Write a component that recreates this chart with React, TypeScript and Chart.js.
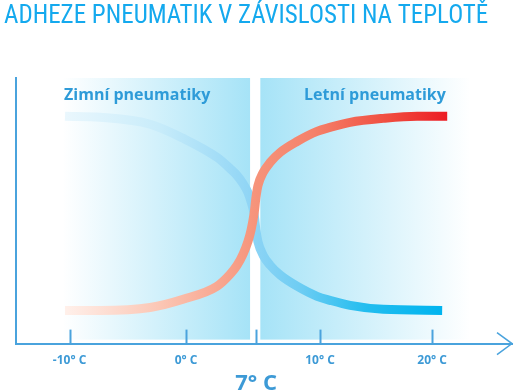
import React, { useEffect, useRef } from 'react';
import { Chart, registerables, LinearScale } from 'chart.js';

Chart.register(...registerables);

// ---------- data ----------
const TITLE = 'ADHEZE PNEUMATIK V ZÁVISLOSTI NA TEPLOTĚ';

const TICK_VALUES = [-10, 0, 7, 10, 20];
const TICK_LABELS = ['-10° C', '0° C', '7° C', '10° C', '20° C'];
const HIGHLIGHT_TICK = 7;

const WINTER_LABEL = 'Zimní pneumatiky';
const WINTER_TEMPS = [-10.39, -7.38, -3.09, -0.26, 3.1, 4.4, 5.1, 5.7, 6.2, 6.5, 6.8, 7.0, 7.09, 7.33, 7.66, 8.13, 8.92, 9.86, 10.89, 12.68, 15.63, 20.89];
const WINTER_GRIP = [85.6, 85.2, 82.6, 77.3, 70.1, 65.9, 63.3, 60.2, 56.8, 53.4, 48.9, 42.4, 38.3, 33.3, 29.5, 25.8, 21.6, 17.8, 16.3, 14.4, 12.9, 12.5];

const SUMMER_LABEL = 'Letní pneumatiky';
const SUMMER_TEMPS = [-10.39, -7.38, -3.09, -0.26, 3.1, 4.4, 5.1, 5.7, 6.2, 6.5, 6.8, 7.0, 7.09, 7.33, 7.66, 8.13, 8.92, 9.86, 10.89, 12.68, 15.63, 18.66, 21.34];
const SUMMER_GRIP = [12.5, 12.5, 13.6, 16.7, 21.6, 26.1, 29.5, 33.7, 38.6, 42.8, 48.9, 55.3, 59.5, 64.4, 68.2, 72.0, 76.1, 79.9, 81.4, 83.3, 84.8, 85.6, 85.6];

const ZONE_LABELS = [WINTER_LABEL, SUMMER_LABEL];
const ZONE_FROM = [-10.6, 7.2];
const ZONE_TO = [6.4, 23.4];
const ZONE_LABEL_AT = [-4.2, 14.9];
const ZONE_TOP = 100;
const ZONE_BOTTOM = 1.5;
const ZONE_LABEL_LEVEL = 93.5;

// ---------- styling / layout ----------
const AXIS_COLOR = '#4aa3dd';
const TEXT_BLUE = '#2e9bd8';
const PANEL_BLUE = '#a6e3f7';

// schematic (non-linear) temperature axis: value -> fraction of axis width
const AXIS_WARP: [number, number][] = [
  [-14.6, 0],
  [-10, 0.108],
  [0, 0.343],
  [7, 0.484],
  [10, 0.613],
  [20, 0.839],
  [27.1, 1],
];

function warp(v: number): number {
  const k = AXIS_WARP;
  let i = 0;
  while (i < k.length - 2 && v > k[i + 1][0]) i++;
  const [v0, d0] = k[i];
  const [v1, d1] = k[i + 1];
  return d0 + ((v - v0) * (d1 - d0)) / (v1 - v0);
}
function unwarp(d: number): number {
  const k = AXIS_WARP;
  let i = 0;
  while (i < k.length - 2 && d > k[i + 1][1]) i++;
  const [v0, d0] = k[i];
  const [v1, d1] = k[i + 1];
  return v0 + ((d - d0) * (v1 - v0)) / (d1 - d0);
}

class WarpScale extends LinearScale {
  static id = 'warp';
  static defaults = { ticks: { callback: (v: any) => String(v) } };
  getPixelForValue(value: any) {
    if (value === null || value === undefined || isNaN(value)) return NaN;
    return this.getPixelForDecimal(warp(value));
  }
  getValueForPixel(pixel: number) {
    return unwarp(this.getDecimalForPixel(pixel));
  }
}
Chart.register(WarpScale as any);

const WINTER_STOPS: [number, string][] = [
  [0, '#eaf7fd'],
  [0.25, '#c8ecfa'],
  [0.5, '#8dd4f5'],
  [0.62, '#6fcdf3'],
  [0.8, '#22bdef'],
  [1, '#00b4ef'],
];
const SUMMER_STOPS: [number, string][] = [
  [0, '#fff0ea'],
  [0.25, '#fbc6b4'],
  [0.5, '#f6937a'],
  [0.65, '#f5816a'],
  [0.85, '#f04c3f'],
  [1, '#ec1c24'],
];

function lineGradient(chart: any, temps: number[], stops: [number, string][]) {
  const area = chart.chartArea;
  const xs = chart.scales && chart.scales.x;
  if (!area || !xs) return stops[stops.length - 1][1];
  const x0 = xs.getPixelForValue(temps[0]);
  const x1 = xs.getPixelForValue(temps[temps.length - 1]);
  const g = chart.ctx.createLinearGradient(x0, 0, x1, 0);
  stops.forEach(([o, c]) => g.addColorStop(o, c));
  return g;
}

const decor = {
  id: 'decor',
  beforeDatasetsDraw(chart: any) {
    const { ctx, scales } = chart;
    const x = scales.x;
    const y = scales.y;
    ctx.save();
    ZONE_LABELS.forEach((label, i) => {
      const x0 = x.getPixelForValue(ZONE_FROM[i]);
      const x1 = x.getPixelForValue(ZONE_TO[i]);
      const y0 = y.getPixelForValue(ZONE_TOP);
      const y1 = y.getPixelForValue(ZONE_BOTTOM);
      const g = ctx.createLinearGradient(x0, 0, x1, 0);
      if (i === 0) {
        g.addColorStop(0, '#ffffff');
        g.addColorStop(1, PANEL_BLUE);
      } else {
        g.addColorStop(0, PANEL_BLUE);
        g.addColorStop(1, '#ffffff');
      }
      ctx.fillStyle = g;
      ctx.fillRect(x0, y0, x1 - x0, y1 - y0);
      ctx.fillStyle = TEXT_BLUE;
      ctx.font = 'bold 16px "Open Sans", sans-serif';
      ctx.textAlign = 'center';
      ctx.textBaseline = 'middle';
      ctx.fillText(label, x.getPixelForValue(ZONE_LABEL_AT[i]), y.getPixelForValue(ZONE_LABEL_LEVEL));
    });
    ctx.restore();
  },
  afterDatasetsDraw(chart: any) {
    const { ctx, scales, chartArea } = chart;
    const x = scales.x;
    const bottom = chartArea.bottom;
    ctx.save();
    ctx.strokeStyle = AXIS_COLOR;
    ctx.lineWidth = 2;
    TICK_VALUES.forEach((v) => {
      const px = Math.round(x.getPixelForValue(v)) + 0.5;
      ctx.beginPath();
      ctx.moveTo(px, bottom - 14);
      ctx.lineTo(px, bottom + 1);
      ctx.stroke();
    });
    // arrow head
    ctx.lineWidth = 1.5;
    ctx.beginPath();
    ctx.moveTo(chartArea.right - 15, bottom - 11);
    ctx.lineTo(chartArea.right, bottom);
    ctx.lineTo(chartArea.right - 15, bottom + 11);
    ctx.stroke();
    // highlighted tick label
    const idx = TICK_VALUES.indexOf(HIGHLIGHT_TICK);
    ctx.fillStyle = '#3d9ad6';
    ctx.font = 'bold 22px "Open Sans", sans-serif';
    ctx.textAlign = 'center';
    ctx.textBaseline = 'middle';
    ctx.fillText(TICK_LABELS[idx], x.getPixelForValue(HIGHLIGHT_TICK), bottom + 40);
    ctx.restore();
  },
};

export default function App() {
  const ref = useRef<HTMLCanvasElement>(null);
  useEffect(() => {
    const chart = new Chart(ref.current as HTMLCanvasElement, {
      type: 'line',
      data: {
        datasets: [
          {
            label: SUMMER_LABEL,
            data: SUMMER_TEMPS.map((t, i) => ({ x: t, y: SUMMER_GRIP[i] })),
            borderColor: (c: any) => lineGradient(c.chart, SUMMER_TEMPS, SUMMER_STOPS),
            borderWidth: 9,
            borderCapStyle: 'butt',
            pointRadius: 0,
            cubicInterpolationMode: 'monotone',
            fill: false,
          },
          {
            label: WINTER_LABEL,
            data: WINTER_TEMPS.map((t, i) => ({ x: t, y: WINTER_GRIP[i] })),
            borderColor: (c: any) => lineGradient(c.chart, WINTER_TEMPS, WINTER_STOPS),
            borderWidth: 9,
            borderCapStyle: 'butt',
            pointRadius: 0,
            cubicInterpolationMode: 'monotone',
            fill: false,
          },
        ],
      } as any,
      options: {
        responsive: false,
        animation: false,
        layout: { padding: { left: 4, right: 2, top: 0, bottom: 13 } },
        plugins: {
          legend: { display: false },
          tooltip: { enabled: false },
          title: {
            display: true,
            text: TITLE,
            align: 'start',
            color: '#14a9ee',
            font: {
              family: '"Liberation Sans Narrow", "Roboto Condensed", "Liberation Sans", sans-serif',
              size: 25,
              weight: 'normal',
              lineHeight: 1.2,
            },
            padding: { top: 2, bottom: 46 },
          },
        },
        scales: {
          x: {
            type: 'warp',
            min: -14.6,
            max: 27.1,
            grid: { display: false, drawTicks: false },
            border: { display: true, color: AXIS_COLOR, width: 2 },
            afterBuildTicks: (s: any) => {
              s.ticks = TICK_VALUES.map((v) => ({ value: v }));
            },
            ticks: {
              autoSkip: false,
              maxRotation: 0,
              padding: 10,
              color: '#3d9ad6',
              font: { family: '"Open Sans", sans-serif', weight: 'bold', size: 12 },
              callback: (v: any) => (v === HIGHLIGHT_TICK ? '' : TICK_LABELS[TICK_VALUES.indexOf(v)]),
            },
          },
          y: {
            min: 0,
            max: 100,
            grid: { display: false, drawTicks: false },
            ticks: { display: false },
            border: { display: true, color: AXIS_COLOR, width: 2 },
            afterFit: (s: any) => {
              s.width = 12;
            },
          },
        },
      } as any,
      plugins: [decor],
    });
    return () => chart.destroy();
  }, []);
  return (
    <div style={{ position: 'fixed', left: 0, top: 0, width: 514, height: 391, background: '#fff' }}>
      <canvas ref={ref} width={514} height={391} style={{ display: 'block' }} />
    </div>
  );
}
